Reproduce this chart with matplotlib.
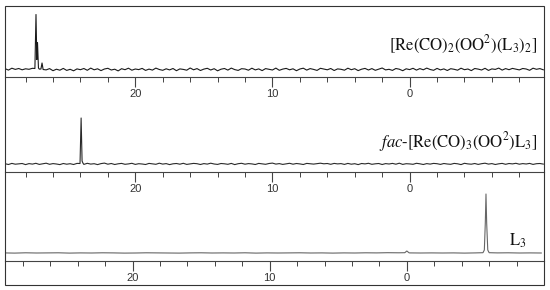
""" Stacked 31P NMR spectra of the Re complexes and free ligand L3. """

import numpy as np
import matplotlib
matplotlib.use("Agg")
import matplotlib.pyplot as plt
from matplotlib.ticker import MultipleLocator

# ---- data (intensities in arbitrary units) ----
top_grid = np.arange(29.5, -9.9, -0.25)
top_noise = [
    0.9, -0.6, 1.3, 0.1, 1.0, -0.3, 0.7, 0.2, 1.2, -0.8,
    0.4, 1.5, -0.4, 0.9, -1.2, 0.3, -0.7, 1.1, -0.9, 0.2,
    -1.3, 0.6, -0.2, 1.0, -0.8, 1.4, -0.3, 0.7, -1.1, 0.5,
    1.2, -0.5, 0.3, -1.4, 0.8, -0.2, 1.3, -0.7, 0.5, -0.1,
    1.1, -0.9, 0.4, -0.6, 1.4, 0.0, -0.8, 0.7, -0.4, 1.0,
    -1.2, 0.6, 0.1, -0.7, 1.5, -0.3, 0.9, -1.0, 0.4, 1.2,
    -0.5, 0.8, -1.3, 0.3, 1.0, -0.6, 1.4, -0.1, -0.9, 0.8,
    0.5, -0.7, 1.3, -0.4, 0.6, -1.1, 0.9, 0.2, -0.5, 1.4,
    -0.8, 0.4, 1.1, -0.3, 0.7, -1.2, 0.5, 1.3, -0.6, 0.9,
    0.1, -0.9, 1.2, 0.4, -0.3, 1.0, -1.0, 0.6, 0.2, -0.7,
    1.3, -0.2, 0.8, -1.1, 0.3, 1.1, -0.5, 0.9, -0.8, 0.4,
    1.5, -0.4, 0.2, -0.9, 1.0, 0.3, -1.2, 0.7, -0.1, 1.2,
    -0.6, 0.9, -0.3, 1.4, 0.0, -0.8, 1.1, -0.4, 0.6, -1.0,
    0.8, 0.2, -0.7, 1.3, -0.2, 0.5, -1.1, 1.0, 0.4, -0.5,
    1.2, -0.9, 0.6, 0.1, 1.4, -0.6, 0.9, -0.2, 1.1, 0.3,
    -0.4, 1.0, 0.5, -0.8, 1.3, 0.2, 0.9, -0.3,
]
top_peak_ppm = [27.32, 27.24, 27.18, 27.13, 27.06, 26.88, 26.80, 26.72]
top_peak_int = [1.0, 55.0, 10.0, 27.0, 1.5, 0.5, 6.5, 0.0]

mid_grid = np.arange(29.5, -9.9, -0.25)
mid_noise = [
    0.3, -0.5, 0.6, -0.2, 0.1, 0.5, -0.6, 0.4, -0.1, 0.7,
    -0.4, 0.2, 0.8, -0.3, 0.4, 0.0, -0.6, 0.5, -0.2, 0.3,
    -0.5, 0.6, 0.1, -0.4, 0.7, -0.1, 0.3, -0.6, 0.4, 0.9,
    -0.2, 0.5, -0.5, 0.2, 0.6, -0.3, 0.1, 0.7, -0.4, 0.3,
    0.0, -0.5, 0.6, 0.2, -0.3, 0.8, -0.1, 0.4, -0.6, 0.2,
    0.5, -0.2, 0.7, -0.4, 0.1, 0.6, 0.3, -0.5, 0.4, -0.1,
    0.8, 0.0, -0.4, 0.5, 0.2, -0.3, 0.6, -0.6, 0.3, 0.7,
    -0.2, 0.4, 0.1, -0.5, 0.6, 0.2, -0.3, 0.5, 0.9, -0.1,
    0.4, -0.4, 0.2, 0.7, -0.2, 0.5, 0.1, -0.5, 0.6, 0.3,
    -0.1, 0.4, 0.8, 0.2, 0.5, -0.3, 0.6, 0.1, 0.4, -0.4,
    0.6, -0.2, 0.3, -0.6, 0.5, 0.1, 0.7, -0.3, 0.2, 0.5,
    -0.5, 0.4, 0.0, 0.6, -0.2, 0.8, -0.4, 0.3, 0.1, -0.3,
    0.7, 0.2, -0.5, 0.4, -0.1, 0.6, 0.3, -0.4, 0.5, 0.0,
    -0.3, 0.6, 0.2, -0.6, 0.7, 0.1, -0.2, 0.5, -0.4, 0.3,
    0.8, -0.1, 0.4, -0.5, 0.2, 0.6, -0.3, 0.5, 0.1, 0.7,
    -0.2, 0.4, 0.0, 0.6, -0.4, 0.3, 0.5, -0.1,
]
mid_peak_ppm = [24.03, 23.95, 23.88, 23.82]
mid_peak_int = [0.5, 46.0, 3.0, 1.0]

bot_grid = np.arange(29.4, -9.9, -0.8)
bot_noise = [
    0.1, -0.1, 0.2, 0.0, 0.1, 0.2, -0.1, 0.1, 0.0, 0.2,
    0.1, -0.1, 0.0, 0.2, 0.1, 0.0, -0.1, 0.1, 0.2, 0.0,
    0.1, 0.0, 0.2, -0.1, 0.1, 0.0, 0.1, 0.2, 0.0, 0.1,
    -0.1, 0.1, 0.0, 0.2, 0.1, 0.3, 0.2, 0.1, 0.0, 0.1,
    0.0, 0.1, -0.1, 0.1, 0.0, 0.1, 0.2, 0.0, 0.1, 0.0,
]
bot_peak_ppm = [0.15, 0.0, -0.15, -5.55, -5.65, -5.72, -5.77, -5.82, -5.90, -6.00]
bot_peak_int = [0.3, 2.0, 0.3, 0.3, 3.0, 30.0, 59.0, 30.0, 3.0, 0.3]

labels = [
    r"[Re(CO)$_2$(OO$^2$)(L$_3$)$_2$]",
    r"$\it{fac}$-[Re(CO)$_3$(OO$^2$)L$_3$]",
    r"L$_3$",
]


def build(grid, noise, pk_ppm, pk_int):
    """ Merge baseline points and peak points into one trace. """
    grid = np.asarray(grid)
    noise = np.asarray(noise)
    pk_ppm = np.asarray(pk_ppm)
    keep = np.ones(len(grid), bool)
    for p in pk_ppm:
        keep &= np.abs(grid - p) > 0.05
    x = np.concatenate([grid[keep], pk_ppm])
    y = np.concatenate([noise[keep], np.asarray(pk_int)])
    order = np.argsort(x)[::-1]
    return x[order], y[order]


plt.rcParams["mathtext.fontset"] = "stix"

W, H = 550, 290
fig = plt.figure(figsize=(W / 100, H / 100), dpi=100)

# (axis line y in px, trace colour, x limits, trace)
panels = [
    (77.5, "#1a1a1a", (29.5, -9.8), build(top_grid, top_noise, top_peak_ppm, top_peak_int)),
    (172.0, "#2a2a2a", (29.5, -9.8), build(mid_grid, mid_noise, mid_peak_ppm, mid_peak_int)),
    (261.0, "#666666", (29.3, -10.0), build(bot_grid, bot_noise, bot_peak_ppm, bot_peak_int)),
]
label_pos = [(537, 45), (537, 142), (527, 241)]

for (yaxis, col, xlim, (x, y)), text, (tx, ty) in zip(panels, labels, label_pos):
    ax = fig.add_axes([5 / W, 1 - yaxis / H, 539 / W, 71.5 / H])
    ax.plot(x, y, color=col, lw=0.8)
    ax.set_xlim(*xlim)
    ax.set_ylim(-8, 63.5)
    for s in ("top", "left", "right"):
        ax.spines[s].set_visible(False)
    ax.spines["bottom"].set_color("#444444")
    ax.spines["bottom"].set_linewidth(0.8)
    ax.patch.set_alpha(0)
    ax.set_yticks([])
    ax.xaxis.set_major_locator(MultipleLocator(10))
    ax.xaxis.set_minor_locator(MultipleLocator(2))
    ax.tick_params(axis="x", which="major", direction="out", length=7, width=0.8,
                   color="#444444", labelsize=8, labelcolor="#333333", pad=1.5)
    ax.tick_params(axis="x", which="minor", direction="out", length=3.5, width=0.7,
                   color="#444444")
    ax.set_xticks([20, 10, 0])
    ax.set_xticklabels(["20", "10", "0"], family="Liberation Sans")
    fig.text(tx / W, 1 - ty / H, text, ha="right", va="center",
             fontsize=12, family="STIXGeneral", color="#111111")

# frame round the whole figure
fig.add_artist(plt.Rectangle((5 / W, 1 - 285 / H), 539 / W, 279 / H,
                             transform=fig.transFigure, fill=False,
                             edgecolor="#333333", lw=0.8))

fig.savefig("out.png", dpi=100)
